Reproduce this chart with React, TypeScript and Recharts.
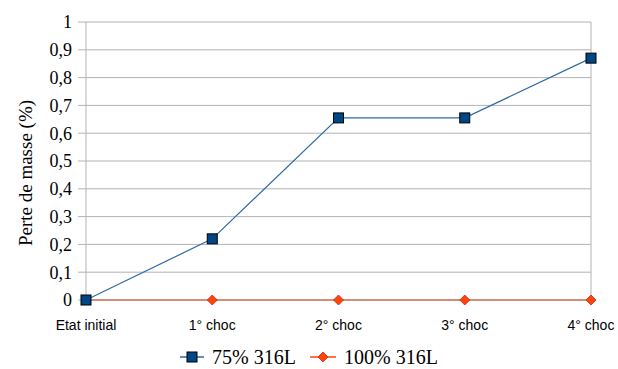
import { LineChart, Line, XAxis, YAxis, CartesianGrid, Legend, ReferenceLine } from 'recharts';

const categories = ['Etat initial', '1° choc', '2° choc', '3° choc', '4° choc'];
const serie75 = [0, 0.22, 0.655, 0.655, 0.87];
const serie100 = [0, 0, 0, 0, 0];
const yTicks = [0, 0.1, 0.2, 0.3, 0.4, 0.5, 0.6, 0.7, 0.8, 0.9, 1];

const BLUE = '#004586';
const BLUE_LINE = '#2f6aa8';
const ORANGE = '#ff420e';
const GRID = '#b3b3b3';
const SERIF = '"Liberation Serif", "DejaVu Serif", serif';
const SANS = '"Liberation Sans", Arial, sans-serif';

const data = categories.map((c, i) => ({ cat: c, s75: serie75[i], s100: serie100[i] }));

function fmt(v: number) {
  return String(v).replace('.', ',');
}

function SquareDot(props: any) {
  const { cx, cy } = props;
  if (cx == null || cy == null) return null;
  return <rect x={cx - 5} y={cy - 5} width={10} height={10} fill={BLUE} stroke="#000" strokeWidth={1} />;
}

function DiamondDot(props: any) {
  const { cx, cy } = props;
  if (cx == null || cy == null) return null;
  const r = 5;
  return (
    <polygon
      points={`${cx},${cy - r} ${cx + r},${cy} ${cx},${cy + r} ${cx - r},${cy}`}
      fill={ORANGE}
      stroke="#c0300a"
      strokeWidth={0.8}
    />
  );
}

function YLabel(props: any) {
  const { viewBox } = props;
  const x = 25;
  const y = viewBox.y + viewBox.height / 2 + 12;
  return (
    <text x={x} y={y} transform={`rotate(-90, ${x}, ${y})`} textAnchor="middle" dominantBaseline="central" fill="#000" fontSize={19} fontFamily={SERIF}>
      Perte de masse (%)
    </text>
  );
}

function LegendContent() {
  return (
    <div style={{ height: 24, display: 'flex', justifyContent: 'center', alignItems: 'center', fontFamily: SERIF, fontSize: 20, color: '#000' }}>
      <svg width={24} height={14} style={{ marginRight: 8 }}>
        <line x1={0} y1={7} x2={24} y2={7} stroke={BLUE_LINE} strokeWidth={1.5} />
        <rect x={7} y={2} width={10} height={10} fill={BLUE} stroke="#000" strokeWidth={1} />
      </svg>
      <span style={{ marginRight: 14 }}>75% 316L</span>
      <svg width={26} height={14} style={{ marginRight: 8 }}>
        <line x1={0} y1={7} x2={26} y2={7} stroke={ORANGE} strokeWidth={1.5} />
        <polygon points="13,2 18,7 13,12 8,7" fill={ORANGE} stroke="#c0300a" strokeWidth={0.8} />
      </svg>
      <span>100% 316L</span>
    </div>
  );
}

export default function App() {
  return (
    <div style={{ position: 'absolute', left: 0, top: 0, background: '#fff' }}>
      <LineChart width={618} height={369} data={data} margin={{ top: 22, right: 27, left: 0, bottom: 0 }}>
        <CartesianGrid stroke={GRID} vertical={false} />
        <XAxis
          dataKey="cat"
          height={45}
          stroke={GRID}
          tickLine={{ stroke: GRID }}
          tickSize={4}
          tick={{ fill: '#000', fontSize: 14, fontFamily: SANS }}
          tickMargin={16}
          interval={0}
        />
        <YAxis
          width={86}
          domain={[0, 1]}
          ticks={yTicks}
          tickFormatter={fmt}
          stroke={GRID}
          tickLine={{ stroke: GRID }}
          tickSize={8}
          tickMargin={6}
          tick={{ fill: '#000', fontSize: 18, fontFamily: SERIF }}
          label={<YLabel />}
        />
        <ReferenceLine x={categories[categories.length - 1]} stroke={GRID} />
        <Line
          dataKey="s100"
          stroke={ORANGE}
          strokeWidth={1.5}
          dot={<DiamondDot />}
          activeDot={false}
          isAnimationActive={false}
        />
        <Line
          dataKey="s75"
          stroke={BLUE_LINE}
          strokeWidth={1.2}
          dot={<SquareDot />}
          activeDot={false}
          isAnimationActive={false}
        />
        <Legend verticalAlign="bottom" content={<LegendContent />} wrapperStyle={{ left: 0, width: 618 }} />
      </LineChart>
    </div>
  );
}
